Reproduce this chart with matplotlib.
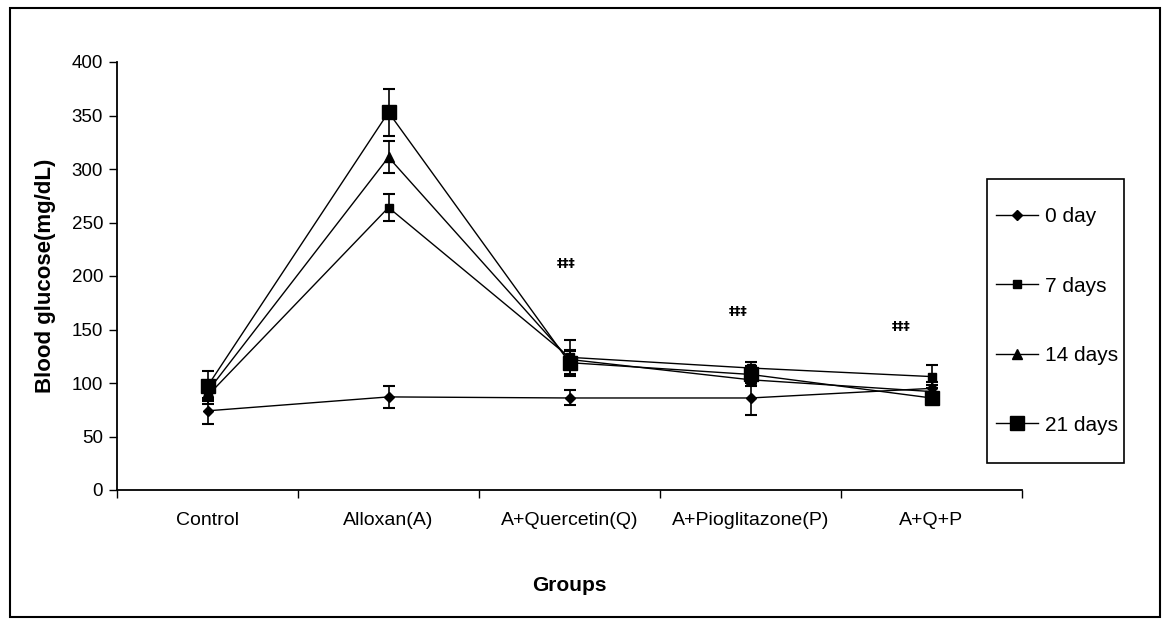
import matplotlib
matplotlib.use("Agg")
import matplotlib.pyplot as plt
from matplotlib.patches import Rectangle
from matplotlib.lines import Line2D

plt.rcParams['font.family'] = ['Liberation Sans', 'DejaVu Sans']

groups = ["Control", "Alloxan(A)", "A+Quercetin(Q)", "A+Pioglitazone(P)", "A+Q+P"]
series_names = ["0 day", "7 days", "14 days", "21 days"]
day0 = [74, 87, 86, 86, 95]
day7 = [88, 264, 124, 114, 106]
day14 = [92, 311, 122, 103, 92]
day21 = [97, 353, 119, 108, 86]
err0 = [12, 10, 7, 16, 6]
err7 = [8, 13, 16, 6, 11]
err14 = [8, 15, 8, 6, 6]
err21 = [14, 22, 12, 8, 6]
sig_labels = ["‡‡‡", "‡‡‡", "‡‡‡"]
sig_x = [1.98, 2.93, 3.83]
sig_y = [212, 167, 153]

markers = ['D', 's', '^', 's']
msizes = [5, 6, 7, 10]

W, H = 1168, 624
fig = plt.figure(figsize=(W / 100, H / 100), dpi=100)
ax = fig.add_axes([117 / W, 1 - 490 / H, (1022 - 117) / W, (490 - 62) / H])

xs = list(range(len(groups)))
data = [day0, day7, day14, day21]
errs = [err0, err7, err14, err21]
for vals, e, m, ms, name in zip(data, errs, markers, msizes, series_names):
    ax.errorbar(xs, vals, yerr=e, color='black', lw=1.0, marker=m, ms=ms,
                mfc='black', mec='black', capsize=4.5, elinewidth=1.2,
                capthick=1.5, label=name)

for t, x, y in zip(sig_labels, sig_x, sig_y):
    ax.text(x, y, t, ha='center', va='center', fontsize=9, fontweight='bold',
            family=['DejaVu Sans'])

ax.set_xlim(-0.5, len(groups) - 0.5)
ax.set_ylim(0, 400)
ax.set_yticks(range(0, 401, 50))
ax.set_xticks(xs)
ax.set_xticklabels(groups, fontsize=14)
ax.set_xticks([i - 0.5 for i in range(len(groups) + 1)], minor=True)
ax.tick_params(axis='x', which='major', length=0, pad=16)
ax.tick_params(axis='x', which='minor', length=6, width=1, direction='out')
ax.tick_params(axis='y', labelsize=13.5, length=6, width=1, direction='out', pad=4)
for s in ['top', 'right']:
    ax.spines[s].set_visible(False)
for s in ['left', 'bottom']:
    ax.spines[s].set_linewidth(1.3)
ax.set_xlabel("Groups", fontsize=15, fontweight='bold', labelpad=34)
ax.set_ylabel("Blood glucose(mg/dL)", fontsize=16, fontweight='bold', labelpad=11)

handles = [Line2D([0], [0], color='black', lw=1.0, marker=m, ms=ms, mfc='black', mec='black')
           for m, ms in zip(markers, msizes)]
leg = fig.legend(handles, series_names, loc='center left',
                 bbox_to_anchor=(996 / W, 1 - 321 / H), fontsize=15,
                 frameon=False, labelspacing=2.42, handlelength=2.0,
                 handletextpad=0.35, borderpad=0, borderaxespad=0)

fig.patches.append(Rectangle((987 / W, 1 - 463 / H), (1124 - 987) / W, (463 - 179) / H,
                             transform=fig.transFigure, fill=False,
                             edgecolor='black', lw=1.2))
fig.patches.append(Rectangle((10 / W, 1 - 617 / H), (1160 - 10) / W, (617 - 8) / H,
                             transform=fig.transFigure, fill=False,
                             edgecolor='black', lw=1.5))

fig.savefig("out.png", dpi=100)
